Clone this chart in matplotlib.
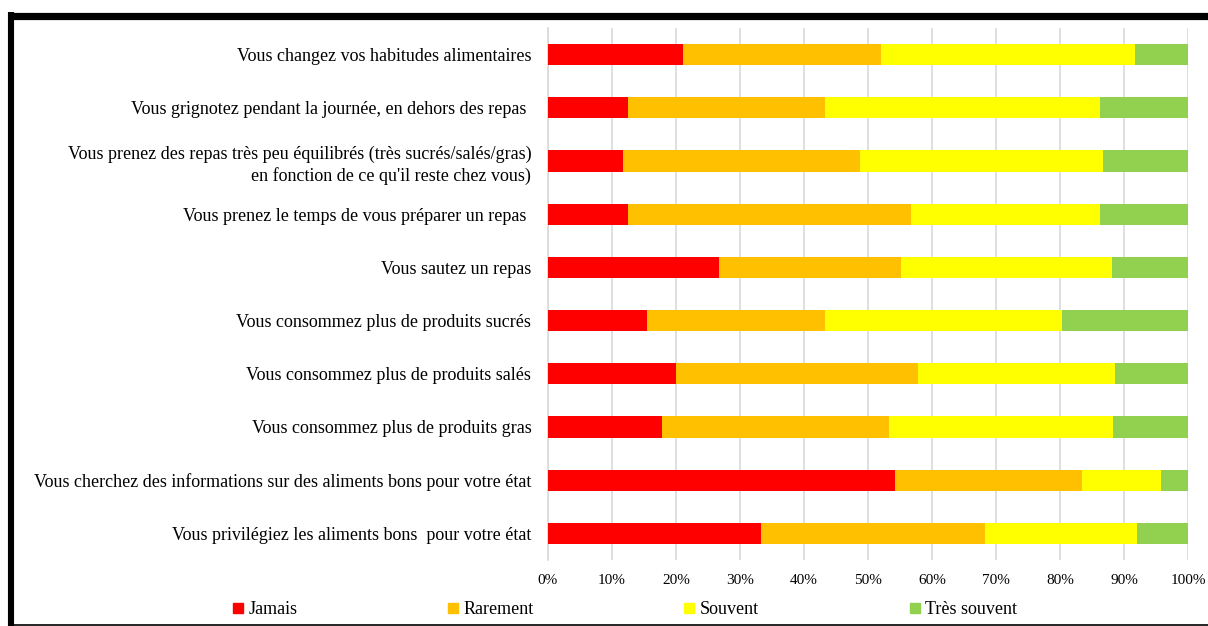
import matplotlib
matplotlib.use("Agg")
import matplotlib.pyplot as plt
from matplotlib.lines import Line2D
import numpy as np

plt.rcParams['font.family'] = ['Liberation Serif', 'DejaVu Serif']

categories = [
    "Vous changez vos habitudes alimentaires",
    "Vous grignotez pendant la journée, en dehors des repas ",
    "Vous prenez des repas très peu équilibrés (très sucrés/salés/gras)\nen fonction de ce qu'il reste chez vous)",
    "Vous prenez le temps de vous préparer un repas ",
    "Vous sautez un repas",
    "Vous consommez plus de produits sucrés",
    "Vous consommez plus de produits salés",
    "Vous consommez plus de produits gras",
    "Vous cherchez des informations sur des aliments bons pour votre état",
    "Vous privilégiez les aliments bons  pour votre état",
]
series_names = ["Jamais", "Rarement", "Souvent", "Très souvent"]
jamais = [21.1, 12.5, 11.7, 12.5, 26.7, 15.5, 20.0, 17.8, 54.2, 33.3]
rarement = [30.9, 30.8, 37.0, 44.2, 28.5, 27.8, 37.8, 35.5, 29.2, 35.0]
souvent = [39.7, 42.95, 38.0, 29.5, 32.9, 37.0, 30.8, 35.0, 12.4, 23.7]
tres_souvent = [8.3, 13.75, 13.3, 13.75, 11.9, 19.7, 11.4, 11.7, 4.2, 8.0]
x_ticks = [0, 10, 20, 30, 40, 50, 60, 70, 80, 90, 100]
colors = ["#FF0000", "#FFC000", "#FFFF00", "#92D050"]

W, H = 1208, 626
fig = plt.figure(figsize=(W / 100, H / 100), dpi=100)
ax = fig.add_axes([548 / W, 1 - 560 / H, (1188 - 548) / W, (560 - 28) / H])

y = np.arange(len(categories))
left = np.zeros(len(categories))
for vals, name, c in zip([jamais, rarement, souvent, tres_souvent], series_names, colors):
    v = np.array(vals)
    ax.barh(y, v, left=left, height=0.4, color=c, label=name, zorder=3)
    left = left + v

ax.set_ylim(len(categories) - 0.5, -0.5)
ax.set_xlim(0, 100)
ax.set_yticks(y)
ax.set_yticklabels(categories, fontsize=13, ha='right', linespacing=1.3)
ax.set_xticks(x_ticks)
ax.set_xticklabels([f"{t}%" for t in x_ticks], fontsize=11)
ax.tick_params(axis='both', length=0)
ax.tick_params(axis='y', pad=12)
ax.tick_params(axis='x', pad=10)
ax.grid(axis='x', color='#D9D9D9', linewidth=1.2, zorder=0)
for s in ['top', 'right', 'bottom']:
    ax.spines[s].set_visible(False)
ax.spines['left'].set_color('#D9D9D9')
ax.spines['left'].set_linewidth(1.2)

handles = [Line2D([], [], marker='s', linestyle='none', markersize=7,
                  markerfacecolor=c, markeredgecolor=c) for c in colors]
fig.legend(handles, series_names, loc='center', bbox_to_anchor=(625 / W, 1 - 610 / H),
           ncol=4, frameon=False, fontsize=13, handlelength=0.6, handletextpad=0.3,
           columnspacing=8.3)

# frame lines
fig.add_artist(Line2D([8 / W, 1], [1 - 15.5 / H, 1 - 15.5 / H], color='black',
                      linewidth=5.2, transform=fig.transFigure, solid_capstyle='butt'))
fig.add_artist(Line2D([11 / W, 11 / W], [0, 1 - 12 / H], color='black',
                      linewidth=4.4, transform=fig.transFigure, solid_capstyle='butt'))
fig.add_artist(Line2D([8 / W, 1], [1 - 624.5 / H, 1 - 624.5 / H], color='black',
                      linewidth=1.2, transform=fig.transFigure, solid_capstyle='butt'))

fig.savefig("out.png", dpi=100)
